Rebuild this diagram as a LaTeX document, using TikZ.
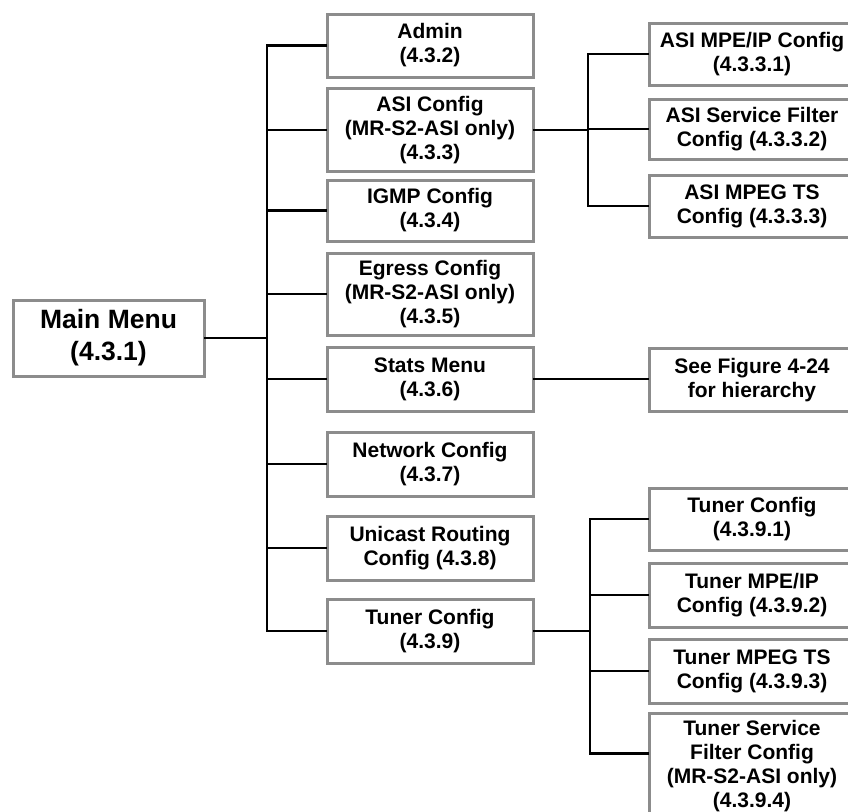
\documentclass[tikz,border=0pt]{standalone}
\usepackage{fontspec}
\setmainfont{Liberation Sans}
\usetikzlibrary{calc}
\definecolor{boxgray}{RGB}{140,140,140}
\begin{document}
\begin{tikzpicture}[
    x=1pt, y=-1pt,
    menu/.style={draw=boxgray, line width=3pt, fill=white, inner sep=0pt,
      align=center, font=\fontsize{21}{24}\selectfont\bfseries},
    item/.style={menu, minimum width=206pt},
    sub/.style={menu, minimum width=206pt},
    link/.style={line width=2.8pt, line cap=rect},
  ]
    \useasboundingbox (0,0) rectangle (848,811);
    % main menu
    \node[menu, minimum width=191pt, minimum height=76pt,
      font=\fontsize{26.5}{32}\selectfont\bfseries] (main) at (108.5,338)
      {Main Menu\\(4.3.1)};
    % first level
    \node[item, minimum height=63pt] (admin)   at (430,45.5) {Admin\\(4.3.2)};
    \node[item, minimum height=83pt] (asi)     at (430,130)  {ASI Config\\(MR-S2-ASI only)\\(4.3.3)};
    \node[item, minimum height=61pt] (igmp)    at (430,210.5) {IGMP Config\\(4.3.4)};
    \node[item, minimum height=82pt] (egress)  at (430,294)  {Egress Config\\(MR-S2-ASI only)\\(4.3.5)};
    \node[item, minimum height=64pt] (stats)   at (430,379)  {Stats Menu\\(4.3.6)};
    \node[item, minimum height=64pt] (network) at (430,464)  {Network Config\\(4.3.7)};
    \node[item, minimum height=64pt] (unicast) at (430,548)  {Unicast Routing\\Config (4.3.8)};
    \node[item, minimum height=64pt] (tuner)   at (430,631)  {Tuner Config\\(4.3.9)};
    % second level
    \node[sub, minimum height=62pt] (asimpe)  at (752,54)    {ASI MPE/IP Config\\(4.3.3.1)};
    \node[sub, minimum height=60pt] (asisf)   at (752,129)   {ASI Service Filter\\Config (4.3.3.2)};
    \node[sub, minimum height=62pt] (asits)   at (752,206)   {ASI MPEG TS\\Config (4.3.3.3)};
    \node[sub, minimum height=63pt] (seefig)  at (752,380)   {See Figure 4-24\\for hierarchy};
    \node[sub, minimum height=62pt] (tcfg)    at (752,519)   {Tuner Config\\(4.3.9.1)};
    \node[sub, minimum height=64pt] (tmpe)    at (752,595)   {Tuner MPE/IP\\Config (4.3.9.2)};
    \node[sub, minimum height=64pt] (tts)     at (752,671)   {Tuner MPEG TS\\Config (4.3.9.3)};
    \node[sub, minimum height=106pt, anchor=north] (tsf) at (752,712)
      {Tuner Service\\Filter Config\\(MR-S2-ASI only)\\(4.3.9.4)};
    % connectors
    \coordinate (bus) at (267,338);
    \coordinate (asibus) at (588,130);
    \coordinate (tbus) at (590,631);
    \coordinate (tsfin) at ($(tsf.north west)!0.38!(tsf.south west)$);
    \draw[link] (main.east) -- (bus);
    \draw[link] (bus |- admin.west) -- (bus |- tuner.west);
    \foreach \n in {admin,asi,igmp,egress,stats,network,unicast,tuner}
      \draw[link] (bus |- \n.west) -- (\n.west);
    \draw[link] (asi.east) -- (asibus);
    \draw[link] (asibus |- asimpe.west) -- (asibus |- asits.west);
    \foreach \n in {asimpe,asisf,asits}
      \draw[link] (asibus |- \n.west) -- (\n.west);
    \draw[link] (stats.east) -- (stats.east -| seefig.west);
    \draw[link] (tuner.east) -- (tbus);
    \draw[link] (tbus |- tcfg.west) -- (tbus |- tsfin);
    \foreach \n in {tcfg,tmpe,tts}
      \draw[link] (tbus |- \n.west) -- (\n.west);
    \draw[link] (tbus |- tsfin) -- (tsfin);
  \end{tikzpicture}
\end{document}
